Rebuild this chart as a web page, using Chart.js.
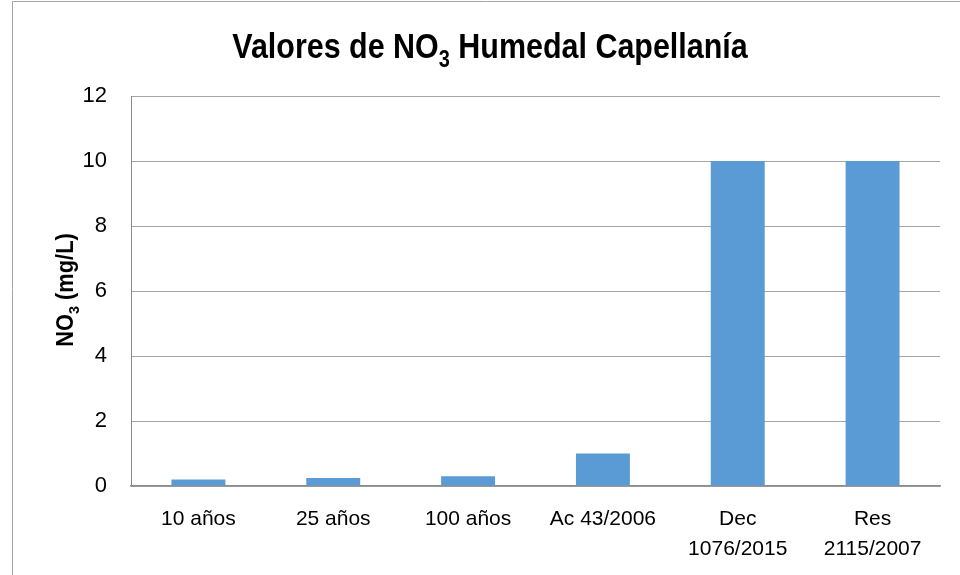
<!DOCTYPE html>
<html>
<head>
<meta charset="utf-8">
<script src="https://cdn.jsdelivr.net/npm/chart.js@4"></script>
<style>
  html, body { margin: 0; padding: 0; background: #fff; }
  #wrap { width: 960px; height: 575px; position: relative; }
</style>
</head>
<body>
<div id="wrap"><canvas id="no3Chart"></canvas></div>
<script>
// ===== DATA =====
const categories = [['10 años'], ['25 años'], ['100 años'], ['Ac 43/2006'], ['Dec', '1076/2015'], ['Res', '2115/2007']];
const no3Values = [0.2, 0.25, 0.3, 1, 10, 10];
const yTicks = [0, 2, 4, 6, 8, 10, 12];

const FONT = "'Liberation Sans Narrow', 'Arial Narrow', 'Liberation Sans', sans-serif";

// draws text with a subscript part: parts = [[text, isSub], ...]
// sx squeezes the text a bit to get closer to a narrow face
function drawSubText(ctx, parts, x, y, size, sx) {
  const subSize = Math.round(size * 0.65);
  let total = 0;
  parts.forEach(([t, sub]) => {
    ctx.font = `bold ${sub ? subSize : size}px ${FONT}`;
    total += ctx.measureText(t).width;
  });
  ctx.save();
  ctx.translate(x, y);
  ctx.scale(sx, 1);
  let cx = -total / 2;
  parts.forEach(([t, sub]) => {
    ctx.font = `bold ${sub ? subSize : size}px ${FONT}`;
    ctx.fillText(t, cx, sub ? size * 0.25 : 0);
    cx += ctx.measureText(t).width;
  });
  ctx.restore();
}

// ===== DECORATION PLUGIN: frame, title, axis title =====
const decor = {
  id: 'decor',
  afterDraw(chart) {
    const ctx = chart.ctx;
    ctx.save();
    // outer frame (cropped)
    ctx.strokeStyle = '#a6a6a6';
    ctx.lineWidth = 1;
    ctx.beginPath();
    ctx.moveTo(12.5, 575);
    ctx.lineTo(12.5, 1.5);
    ctx.lineTo(960, 1.5);
    ctx.stroke();

    ctx.fillStyle = '#000';
    ctx.textBaseline = 'alphabetic';
    ctx.textAlign = 'left';
    drawSubText(ctx, [['Valores de NO', false], ['3', true], [' Humedal Capellanía', false]], 490, 58, 35, 0.87);

    ctx.translate(73, 290);
    ctx.rotate(-Math.PI / 2);
    drawSubText(ctx, [['NO', false], ['3', true], [' (mg/L)', false]], 0, 0, 23, 0.95);
    ctx.restore();
  }
};

// ===== BAR CHART =====
new Chart(document.getElementById('no3Chart'), {
  type: 'bar',
  data: {
    labels: categories,
    datasets: [{
      data: no3Values,
      backgroundColor: '#5b9bd5',
      borderWidth: 0,
      barPercentage: 0.4,
      categoryPercentage: 1,
    }]
  },
  options: {
    responsive: true,
    maintainAspectRatio: false,
    animation: false,
    layout: { padding: { top: 96, right: 20, left: 0, bottom: 0 } },
    plugins: {
      legend: { display: false },
      tooltip: { enabled: false },
    },
    scales: {
      x: {
        grid: { display: false, drawTicks: false },
        border: { color: '#8c8c8c', width: 1.5 },
        ticks: {
          font: { family: FONT, size: 21, lineHeight: 1.45 },
          color: '#000',
          padding: 18,
          maxRotation: 0,
          autoSkip: false,
        },
        afterFit: (s) => { s.height = 89; },
      },
      y: {
        min: 0,
        max: 12,
        afterBuildTicks: (s) => { s.ticks = yTicks.map(v => ({ value: v })); },
        grid: { color: '#a6a6a6', drawTicks: false },
        border: { color: '#8c8c8c', width: 1 },
        ticks: {
          font: { family: FONT, size: 22 },
          color: '#000',
          padding: 24,
        },
        afterFit: (s) => { s.width = 131; },
      }
    }
  },
  plugins: [decor]
});
</script>
</body>
</html>
